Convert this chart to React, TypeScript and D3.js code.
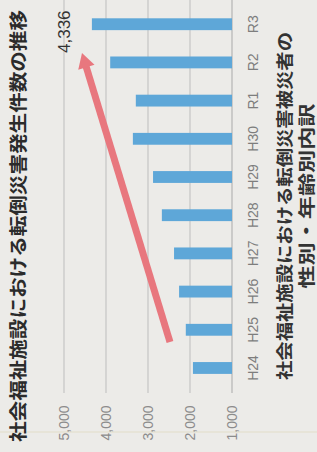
import React, { useEffect, useRef } from "react";
import * as d3 from "d3";

// 社会福祉施設における転倒災害発生件数 (H24〜R3)
const years = ["H24", "H25", "H26", "H27", "H28", "H29", "H30", "R1", "R2", "R3"];
const cases = [1930, 2100, 2260, 2380, 2670, 2880, 3360, 3290, 3900, 4336];
const tickValues = [1000, 2000, 3000, 4000, 5000];
const title = "社会福祉施設における転倒災害発生件数の推移";
const nextTitle = ["社会福祉施設における転倒災害被災者の", "性別・年齢別内訳"];
const peakLabel = "4,336";

const width = 317;
const height = 452;
const jpFont = "'Noto Sans CJK JP', 'Noto Sans', sans-serif";
const numFont = "'Liberation Sans', Arial, sans-serif";

export default function App() {
  const ref = useRef<SVGSVGElement>(null);

  useEffect(() => {
    const svg = d3.select(ref.current);
    svg.selectAll("*").remove();

    // paper
    svg.append("rect").attr("width", width).attr("height", height).attr("fill", "#ecebe8");
    svg.append("line")
      .attr("x1", 0).attr("x2", width).attr("y1", 432).attr("y2", 432)
      .attr("stroke", "#e2ddc8").attr("stroke-width", 1);

    // the chart is printed turned on its side: values run right -> left, years bottom -> top
    const xScale = d3.scaleLinear().domain([1000, 5000]).range([232, 64]);
    const yScale = d3.scaleBand<string>().domain(years).range([393, -0.8])
      .paddingInner(0.69).paddingOuter(0.5);

    // grid
    svg.append("g").selectAll("line").data(tickValues).enter()
      .append("line")
      .attr("x1", d => xScale(d)).attr("x2", d => xScale(d))
      .attr("y1", 0).attr("y2", 393)
      .attr("stroke", d => (d === 1000 ? "#a9a9a9" : "#bdbdbd"))
      .attr("stroke-width", 1);

    // tick labels
    svg.append("g").selectAll("text").data(tickValues).enter()
      .append("text")
      .attr("transform", d => `translate(${xScale(d)}, 423) rotate(-90)`)
      .attr("text-anchor", "middle")
      .attr("dominant-baseline", "central")
      .style("font-family", numFont)
      .style("font-size", "14px")
      .attr("fill", "#8c8c8c")
      .text(d => d3.format(",")(d));

    // bars
    svg.append("g").selectAll("rect").data(cases).enter()
      .append("rect")
      .attr("x", d => xScale(d))
      .attr("y", (d, i) => yScale(years[i]) as number)
      .attr("width", d => xScale(1000) - xScale(d))
      .attr("height", yScale.bandwidth())
      .attr("fill", "#5ea7d8");

    // year labels
    svg.append("g").selectAll("text").data(years).enter()
      .append("text")
      .attr("transform", d => `translate(253, ${(yScale(d) as number) + yScale.bandwidth() / 2}) rotate(-90)`)
      .attr("text-anchor", "middle")
      .attr("dominant-baseline", "central")
      .style("font-family", numFont)
      .style("font-size", "14px")
      .attr("fill", "#7d7d7d")
      .text(d => d);

    // peak value
    const last = cases.length - 1;
    svg.append("text")
      .attr("transform", `translate(${xScale(cases[last]) - 27}, 53) rotate(-90)`)
      .attr("text-anchor", "start")
      .attr("dominant-baseline", "central")
      .style("font-family", numFont)
      .style("font-size", "17px")
      .attr("fill", "#333")
      .text(peakLabel);

    // red trend arrow
    const tail: [number, number] = [170, 342];
    const tip: [number, number] = [82, 53];
    const len = Math.hypot(tip[0] - tail[0], tip[1] - tail[1]);
    const ux = (tip[0] - tail[0]) / len;
    const uy = (tip[1] - tail[1]) / len;
    const headLen = 15;
    const headHalf = 8.5;
    const bx = tip[0] - ux * headLen;
    const by = tip[1] - uy * headLen;
    svg.append("line")
      .attr("x1", tail[0]).attr("y1", tail[1])
      .attr("x2", bx + ux * 2).attr("y2", by + uy * 2)
      .attr("stroke", "#e8777e").attr("stroke-width", 7);
    svg.append("polygon")
      .attr("points", [
        tip,
        [bx - uy * headHalf, by + ux * headHalf],
        [bx + uy * headHalf, by - ux * headHalf],
      ].map(p => p.join(",")).join(" "))
      .attr("fill", "#e8777e");

    // title (left edge)
    svg.append("text")
      .attr("transform", "translate(17, 226) rotate(-90)")
      .attr("text-anchor", "middle")
      .attr("dominant-baseline", "central")
      .attr("textLength", 432)
      .attr("lengthAdjust", "spacingAndGlyphs")
      .style("font-family", jpFont)
      .style("font-size", "18px")
      .style("font-weight", "bold")
      .attr("fill", "#2b2b2b")
      .text(title);

    // next chart's title (right edge)
    const nextPos = [
      { x: 283, y: 206, len: 348 },
      { x: 305, y: 196, len: 185 },
    ];
    nextTitle.forEach((t, i) => {
      svg.append("text")
        .attr("transform", `translate(${nextPos[i].x}, ${nextPos[i].y}) rotate(-90)`)
        .attr("text-anchor", "middle")
        .attr("dominant-baseline", "central")
        .attr("textLength", nextPos[i].len)
        .attr("lengthAdjust", "spacingAndGlyphs")
        .style("font-family", jpFont)
        .style("font-size", "17px")
        .style("font-weight", "bold")
        .attr("fill", "#333")
        .text(t);
    });
  }, []);

  return (
    <svg
      ref={ref}
      width={width}
      height={height}
      style={{ position: "absolute", left: 0, top: 0, display: "block" }}
    />
  );
}
